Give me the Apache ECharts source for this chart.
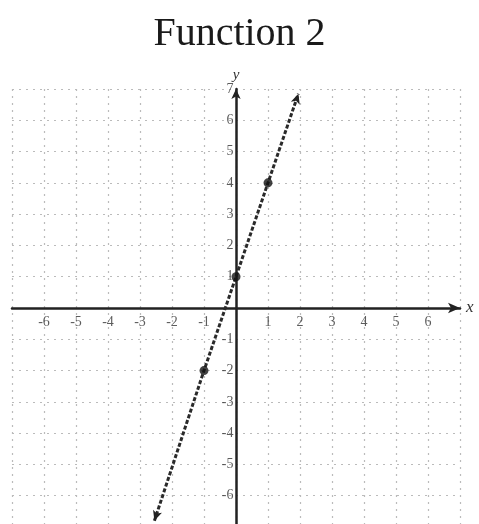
<!DOCTYPE html>
<html lang="en">
<head>
	<meta charset="UTF-8">
	<title>Function 2</title>
	<script src="https://cdn.jsdelivr.net/npm/echarts@6/dist/echarts.min.js"></script>
	<style>
		html, body { margin: 0; padding: 0; width: 100%; height: 100%; background: #fff; }
		#chart { width: 479px; height: 524px; }
	</style>
</head>
<body>
	<div id="chart"></div>
<script>
	// values
	var titleText = 'Function 2';
	var axisMin = -7, axisMax = 7;
	var xTickLabels = [-6, -5, -4, -3, -2, -1, 1, 2, 3, 4, 5, 6];
	var yTickLabels = [-6, -5, -4, -3, -2, -1, 1, 2, 3, 4, 5, 6, 7];
	var lineX = [-2.55, -1, 0, 1, 1.95];
	var lineY = [-6.8, -2, 1, 4, 6.85];
	var pointX = [-1, 0, 1];
	var pointY = [-2, 1, 4];

	var serif = '"Liberation Serif", "DejaVu Serif", serif';

	var lineData = [];
	for (var i = 0; i < lineX.length; i++) {
		var item = { value: [lineX[i], lineY[i]] };
		if (i === 0) { item.symbol = 'arrow'; item.symbolRotate = 162; item.symbolSize = [7, 10]; }
		if (i === lineX.length - 1) { item.symbol = 'arrow'; item.symbolRotate = -18; item.symbolSize = [7, 10]; }
		lineData.push(item);
	}
	var dots = pointX.map(function (x, i) { return [x, pointY[i]]; });
	// tick labels sit on the axes through the origin
	var xLabelData = xTickLabels.map(function (v) { return [v, 0]; });
	var yLabelData = yTickLabels.map(function (v) { return [0, v]; });

	function labelSeries(data, pos, dist, idx) {
		return {
			type: 'scatter',
			data: data,
			symbol: 'circle',
			symbolSize: 1,
			silent: true,
			itemStyle: { color: 'rgba(0,0,0,0)' },
			label: {
				show: true, position: pos, distance: dist,
				fontFamily: serif, fontSize: 14, color: '#333',
				formatter: function (p) { return String(p.value[idx]); }
			},
			labelLayout: { hideOverlap: false },
			z: 2
		};
	}

	var myChart = echarts.init(document.getElementById('chart'));
	var options = {
		animation: false,
		title: {
			text: titleText,
			left: 'center',
			top: 9,
			textStyle: { fontFamily: serif, fontSize: 40, fontWeight: 'normal', color: '#1a1a1a' }
		},
		grid: { left: 12, right: 19, top: 89, bottom: -3, containLabel: false, outerBoundsMode: 'none' },
		xAxis: {
			type: 'value', min: axisMin, max: axisMax, interval: 1,
			name: 'x', nameLocation: 'end', nameGap: 6,
			nameTextStyle: { fontFamily: serif, fontSize: 17, fontStyle: 'italic', color: '#333' },
			axisLine: { onZero: true, symbol: ['none', 'arrow'], symbolSize: [8, 12],
				lineStyle: { color: '#222', width: 2.5 } },
			axisTick: { show: false },
			axisLabel: { show: false },
			splitLine: { show: true, lineStyle: { color: '#bbb', type: [2, 5], width: 1.2 } }
		},
		yAxis: {
			type: 'value', min: axisMin, max: axisMax, interval: 1,
			name: 'y', nameLocation: 'end', nameGap: 6,
			nameTextStyle: { fontFamily: serif, fontSize: 15, fontStyle: 'italic', color: '#333' },
			axisLine: { onZero: true, symbol: ['none', 'arrow'], symbolSize: [7, 10],
				lineStyle: { color: '#222', width: 2.5 } },
			axisTick: { show: false },
			axisLabel: { show: false },
			splitLine: { show: true, lineStyle: { color: '#bbb', type: [2, 5], width: 1.2 } }
		},
		series: [{
			type: 'line',
			data: lineData,
			symbol: 'none',
			lineStyle: { color: '#2a2a2a', width: 3, type: [4, 2] },
			itemStyle: { color: '#222' },
			z: 3
		}, {
			type: 'scatter',
			data: dots,
			symbolSize: 9,
			itemStyle: { color: '#111' },
			z: 4
		},
			labelSeries(xLabelData, 'bottom', 7, 0),
			labelSeries(yLabelData, 'left', 2, 1)
		]
	};
	myChart.setOption(options);
</script>
</body>
</html>
